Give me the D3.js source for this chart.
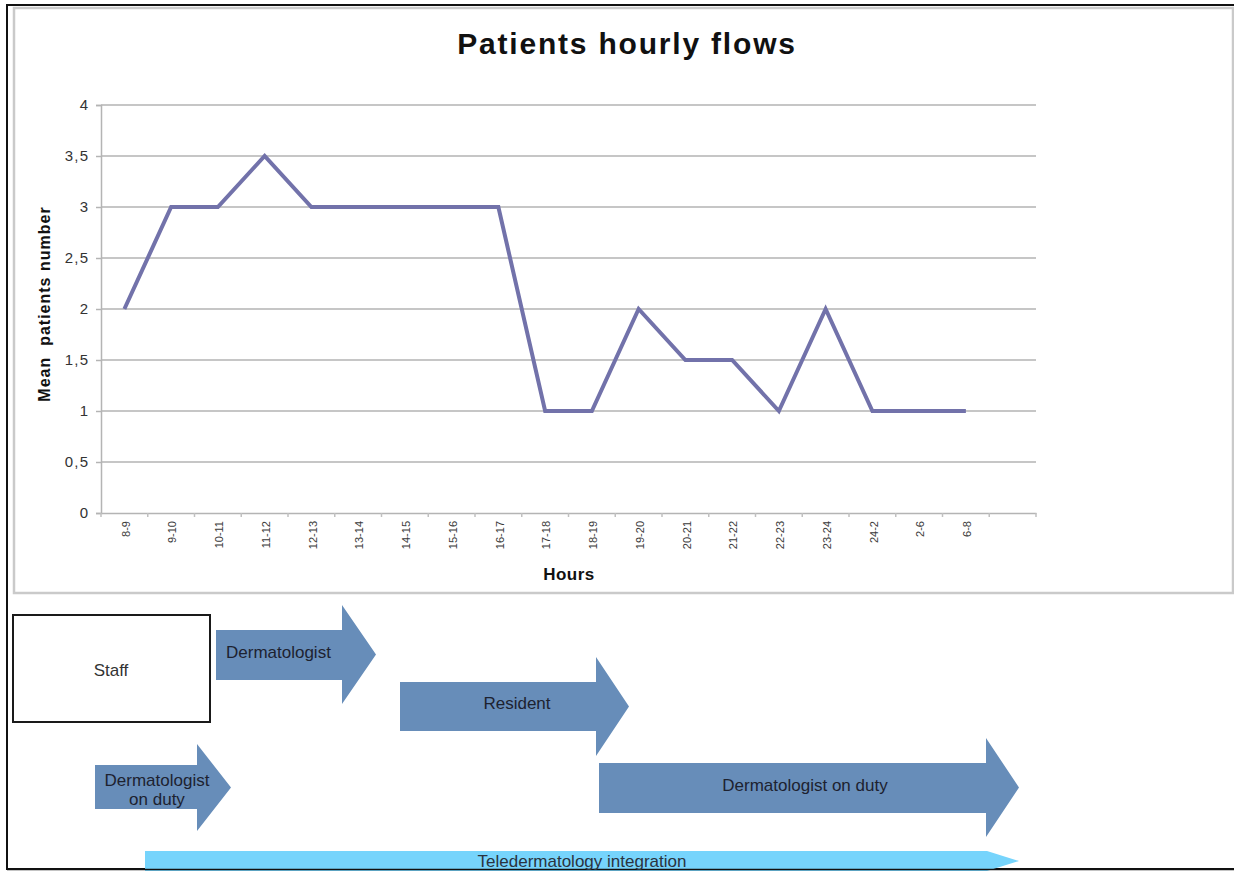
<!DOCTYPE html>
<html>
<head>
<meta charset="utf-8">
<script src="https://cdn.jsdelivr.net/npm/d3@7"></script>
<style>
  html, body { margin: 0; padding: 0; background: #fff; }
  svg { display: block; font-family: "Liberation Sans", Arial, Helvetica, sans-serif; }
</style>
</head>
<body>
<svg id="fig" width="1234" height="871"></svg>
<script>
// Hour slots and mean number of patients per slot
const hours = ["8-9", "9-10", "10-11", "11-12", "12-13", "13-14", "14-15", "15-16", "16-17",
  "17-18", "18-19", "19-20", "20-21", "21-22", "22-23", "23-24", "24-2", "2-6", "6-8"];
const meanPatients = [2, 3, 3, 3.5, 3, 3, 3, 3, 3, 1, 1, 2, 1.5, 1.5, 1, 2, 1, 1, 1];

// Value axis ticks and their printed labels (decimal comma)
const yTicks = [0, 0.5, 1, 1.5, 2, 2.5, 3, 3.5, 4];
const yTickLabels = ["0", "0,5", "1", "1,5", "2", "2,5", "3", "3,5", "4"];

// Staffing bands shown under the chart
const staffTitle = "Staff";
const staffBands = ["Dermatologist", "Resident", "Dermatologist on duty", "Dermatologist\non duty"];
const teleBand = "Teledermatology integration";

const svg = d3.select("#fig");

// ---------- frames ----------
svg.append("rect")
  .attr("x", 7).attr("y", 5).attr("width", 1240).attr("height", 864)
  .attr("fill", "none").attr("stroke", "#111").attr("stroke-width", 2);
svg.append("rect")
  .attr("x", 14).attr("y", 8).attr("width", 1219).attr("height", 585)
  .attr("fill", "#fff").attr("stroke", "#cacaca").attr("stroke-width", 2.5);

// ---------- scales ----------
const plot = { left: 101, right: 1036, top: 105, bottom: 513 };
// one spare slot after the last hour, as in the original layout
const x = d3.scaleBand().domain(d3.range(hours.length + 1)).range([plot.left, plot.right]);
const y = d3.scaleLinear().domain([0, 4]).range([plot.bottom, plot.top]);

// ---------- gridlines ----------
svg.append("g").selectAll("line").data(yTicks.filter(d => d > 0)).join("line")
  .attr("x1", plot.left).attr("x2", plot.right)
  .attr("y1", d => y(d)).attr("y2", d => y(d))
  .attr("stroke", "#c6c6c6").attr("stroke-width", 2);

// ---------- y axis ----------
const yAxis = svg.append("g").attr("transform", `translate(${plot.left},0)`)
  .call(d3.axisLeft(y).tickValues(yTicks).tickSize(5).tickPadding(8)
    .tickFormat((d, i) => yTickLabels[i]));
yAxis.select(".domain").attr("stroke", "#b4b4b4").attr("stroke-width", 1.5);
yAxis.selectAll(".tick line").attr("stroke", "#b4b4b4").attr("stroke-width", 1.5);
yAxis.selectAll(".tick text")
  .attr("font-size", 15).attr("fill", "#333").attr("letter-spacing", "1.2px")
  .attr("font-family", "Liberation Sans, Arial, sans-serif")
  .attr("dx", "1.2px");

// ---------- x axis ----------
const xAxis = svg.append("g").attr("transform", `translate(0,${plot.bottom})`)
  .call(d3.axisBottom(x).tickSize(0).tickFormat(() => ""));
xAxis.select(".domain").attr("stroke", "#b4b4b4").attr("stroke-width", 1.5);
// tick marks on slot boundaries
svg.append("g").selectAll("line").data(d3.range(hours.length + 2)).join("line")
  .attr("x1", i => plot.left + i * x.step()).attr("x2", i => plot.left + i * x.step())
  .attr("y1", plot.bottom).attr("y2", plot.bottom + 4)
  .attr("stroke", "#c0c0c0").attr("stroke-width", 1.5);
// rotated hour labels
svg.append("g").selectAll("text").data(hours).join("text")
  .attr("transform", (d, i) => `translate(${x(i) + x.bandwidth() / 2 + 1.5},521) rotate(-90)`)
  .attr("text-anchor", "end").attr("dy", "0.35em")
  .attr("font-size", 11).attr("fill", "#3a3a3a")
  .text(d => d);

// ---------- series line ----------
const line = d3.line()
  .x((d, i) => x(i) + x.bandwidth() / 2)
  .y(d => y(d));
svg.append("path").datum(meanPatients)
  .attr("d", line)
  .attr("fill", "none").attr("stroke", "#7272aa").attr("stroke-width", 4)
  .attr("stroke-linejoin", "miter");

// ---------- titles ----------
svg.append("text").attr("x", 627).attr("y", 54)
  .attr("text-anchor", "middle").attr("font-size", 30).attr("font-weight", "bold")
  .attr("letter-spacing", "1.8px").attr("fill", "#111")
  .text("Patients hourly flows");
svg.append("text").attr("x", 569).attr("y", 580)
  .attr("text-anchor", "middle").attr("font-size", 17).attr("font-weight", "bold")
  .attr("letter-spacing", "0.5px").attr("fill", "#111")
  .text("Hours");
svg.append("text").attr("transform", "translate(50,304) rotate(-90)")
  .attr("text-anchor", "middle").attr("font-size", 16).attr("font-weight", "bold")
  .attr("letter-spacing", "1px").attr("fill", "#111")
  .attr("xml:space", "preserve")
  .text("Mean  patients number");

// ---------- staffing diagram ----------
const arrowBlue = "#678db9";
const teleBlue = "#76d4fc";

// block arrow: body from bx0 to hx, head from hx to tip
function arrowPath(a) {
  const ty = (a.hy0 + a.hy1) / 2;
  return `M${a.bx0},${a.by0}H${a.hx}V${a.hy0}L${a.tip},${ty}L${a.hx},${a.hy1}V${a.by1}H${a.bx0}Z`;
}

svg.append("rect").attr("x", 13).attr("y", 615).attr("width", 197).attr("height", 107)
  .attr("fill", "#fff").attr("stroke", "#1a1a1a").attr("stroke-width", 2);
svg.append("text").attr("x", 111).attr("y", 676).attr("text-anchor", "middle")
  .attr("font-size", 17).attr("fill", "#333").text(staffTitle);

const arrowShapes = [
  { bx0: 216, hx: 342, tip: 376, by0: 630, by1: 680, hy0: 605, hy1: 704, tx: 226, ty: 658, anchor: "start" },
  { bx0: 400, hx: 596, tip: 629, by0: 682, by1: 731, hy0: 657, hy1: 756, tx: 517, ty: 709, anchor: "middle" },
  { bx0: 599, hx: 986, tip: 1019, by0: 763, by1: 813, hy0: 738, hy1: 837, tx: 805, ty: 791, anchor: "middle" },
  { bx0: 95, hx: 197, tip: 231, by0: 765, by1: 809, hy0: 744, hy1: 831, tx: 157, ty: 786, anchor: "middle" }
];

const bands = svg.append("g").selectAll("g").data(staffBands).join("g");
bands.append("path")
  .attr("d", (d, i) => arrowPath(arrowShapes[i]))
  .attr("fill", arrowBlue);
bands.append("text")
  .attr("x", (d, i) => arrowShapes[i].tx).attr("y", (d, i) => arrowShapes[i].ty)
  .attr("text-anchor", (d, i) => arrowShapes[i].anchor)
  .attr("font-size", 17).attr("fill", "#1d2230")
  .each(function (d, i) {
    const lines = d.split("\n");
    d3.select(this).selectAll("tspan").data(lines).join("tspan")
      .attr("x", arrowShapes[i].tx).attr("dy", (l, j) => j === 0 ? 0 : 19)
      .text(l => l);
  });

// teledermatology bar across the bottom
svg.append("path")
  .attr("d", arrowPath({ bx0: 145, hx: 987, tip: 1019, by0: 851, by1: 871, hy0: 851, hy1: 871 }))
  .attr("fill", teleBlue);

// bottom edge of the outer frame
svg.append("line").attr("x1", 7).attr("x2", 1234).attr("y1", 869.5).attr("y2", 869.5)
  .attr("stroke", "#111").attr("stroke-width", 1.5);

svg.append("text").attr("x", 582).attr("y", 867).attr("text-anchor", "middle")
  .attr("font-size", 17).attr("fill", "#2a3340").text(teleBand);
</script>
</body>
</html>
